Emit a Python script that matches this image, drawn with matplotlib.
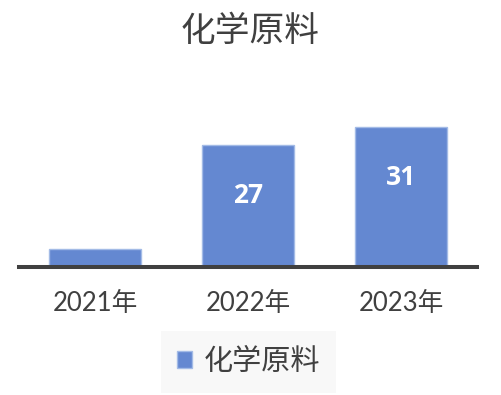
import matplotlib
matplotlib.use('Agg')
import matplotlib.pyplot as plt
from matplotlib.patches import Rectangle

plt.rcParams['font.family'] = ['Lato', 'Noto Sans CJK SC', 'DejaVu Sans']

# data
years = ['2021年', '2022年', '2023年']
values = [4, 27, 31]
labels = ['', '27', '31']
series_name = '化学原料'

W, H = 502, 395
fig = plt.figure(figsize=(W / 100, H / 100), dpi=100)
fig.patch.set_facecolor('white')

# plot area in pixels: left, baseline, width, top
left, base, width, top = 18.5, 267, 459, 100
ax = fig.add_axes([left / W, 1 - base / H, width / W, (base - top) / H])

bar_color = '#6488D1'
bars = ax.bar(range(len(years)), values, width=0.6, color=bar_color,
              edgecolor='#A3BBE6', linewidth=1.0, zorder=2)

for b, lab in zip(bars, labels):
    if lab:
        ax.annotate(lab, (b.get_x() + b.get_width() / 2, b.get_height()),
                    xytext=(0, -36), textcoords='offset points',
                    ha='center', va='center', color='white',
                    fontsize=19, fontweight='bold', family=['Open Sans'])

ax.set_xlim(-0.5, 2.5)
ax.set_ylim(0, 37.1)
ax.set_xticks(range(len(years)))
ax.set_xticklabels(years, fontsize=18.5, color='#404040')
ax.tick_params(axis='x', length=0, pad=17)
ax.set_yticks([])
for s in ['top', 'right', 'left']:
    ax.spines[s].set_visible(False)
ax.spines['bottom'].set_color('#404040')
ax.spines['bottom'].set_linewidth(2.9)
ax.spines['bottom'].set_zorder(3)

fig.text(250 / W, 1 - 31 / H, series_name, ha='center', va='center',
         fontsize=25, fontweight='medium', color='#404040',
         family=['Noto Sans CJK SC'])

handle = Rectangle((0, 0), 1, 1, facecolor=bar_color, edgecolor='#A3BBE6')
leg = fig.legend([handle], [series_name], loc='center',
                 bbox_to_anchor=(248.5 / W, 1 - 362 / H),
                 prop={'family': 'Noto Sans CJK SC', 'size': 21},
                 frameon=True, fancybox=False, framealpha=1,
                 handlelength=0.5, handleheight=0.5, handletextpad=0.4,
                 borderpad=0.55, borderaxespad=0)
leg.get_frame().set_facecolor('#F8F8F8')
leg.get_frame().set_edgecolor('none')
for t in leg.get_texts():
    t.set_color('#404040')

fig.savefig('out.png', dpi=100)
